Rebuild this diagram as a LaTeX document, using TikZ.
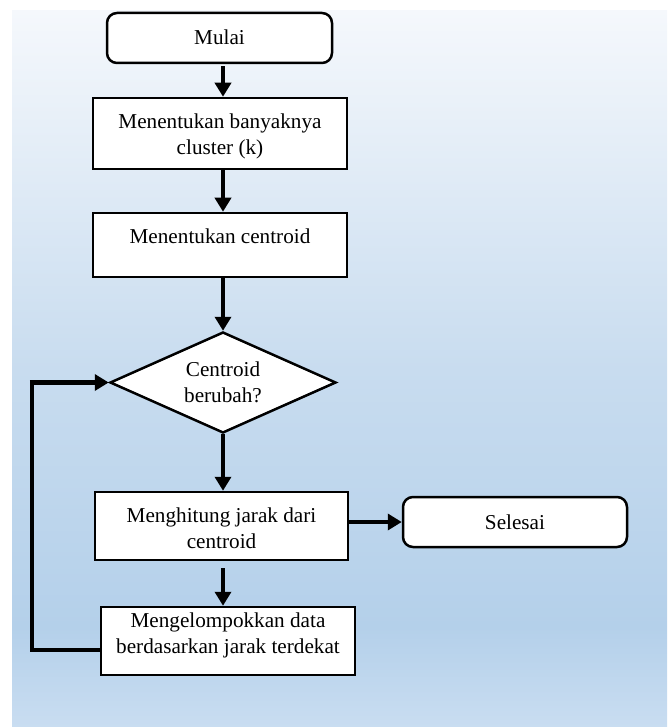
\documentclass[tikz,border=0pt]{standalone}
\usepackage{fontspec}
\setmainfont{Liberation Serif}
\usetikzlibrary{shapes.geometric,arrows.meta}
\definecolor{bgA}{HTML}{C9DDF1}
\definecolor{bgB}{HTML}{B4D0EA}
\definecolor{bgC}{HTML}{C8DCEF}
\definecolor{bgD}{HTML}{F5F8FC}
\pgfdeclareverticalshading{bgshade}{100bp}{color(0bp)=(bgA); color(25bp)=(bgA); color(32bp)=(bgB); color(50bp)=(bgC); color(75bp)=(bgD); color(100bp)=(bgD)}
\tikzset{
  txt/.style={font=\fontsize{21.2pt}{26pt}\selectfont, align=center},
  procbox/.style={txt, draw=black, line width=2.5pt, fill=white, inner sep=0pt, minimum width=254pt},
  termbox/.style={procbox, rounded corners=10pt, minimum width=225pt, minimum height=50pt, text height=14pt, text depth=0pt},
  decbox/.style={txt, diamond, aspect=2.24, draw=black, line width=2.5pt, fill=white, inner sep=0pt, minimum width=226pt, minimum height=101pt},
  flow/.style={line width=4.5pt, -{Triangle[width=16pt,length=14pt]}},
  loopline/.style={line width=4.5pt, line join=miter}
}
\begin{document}
\begin{tikzpicture}[x=1pt,y=-1pt]
\useasboundingbox (0,0) rectangle (670,727);
\fill[shading=bgshade] (12,11) rectangle (667,727);
\coordinate (ax) at (223,0);
\node[termbox] (mulai) at (219.5,38) {Mulai};
\node[procbox, minimum height=71pt, text height=43pt, text depth=0pt] (k) at (220,133.5) {Menentukan banyaknya\\cluster (k)};
\node[procbox, minimum height=64pt, text height=0pt, text depth=4pt] (cent) at (220,245) {Menentukan centroid};
\node[decbox, text height=39pt, text depth=0pt] (dec) at (223,382.5) {Centroid\\berubah?};
\node[procbox, minimum width=253pt, minimum height=68pt, text height=44pt, text depth=0pt] (jarak) at (221.5,526) {Menghitung jarak dari\\centroid};
\node[termbox, minimum width=224pt] (selesai) at (515,522) {Selesai};
\node[procbox, minimum height=68pt, text height=24pt, text depth=0pt] (group) at (228,641) {Mengelompokkan data\\berdasarkan jarak terdekat};
\coordinate (lx) at (32,0);
\draw[flow] ([yshift=-2pt]mulai.south -| ax) -- (k.north -| ax);
\draw[flow] (k.south -| ax) -- (cent.north -| ax);
\draw[flow] (cent.south -| ax) -- (dec.north);
\draw[flow] (dec.south) -- (jarak.north -| ax);
\draw[flow] ([yshift=-7pt]jarak.south -| ax) -- (group.north -| ax);
\draw[flow] (jarak.east |- selesai.west) -- (selesai.west);
\coordinate (gl) at ([yshift=-9pt]group.west);
\draw[loopline] (gl) -- (gl -| lx) -- (dec.west -| lx);
\draw[flow] ([xshift=-2.25pt]dec.west -| lx) -- (dec.west);
\end{tikzpicture}
\end{document}
